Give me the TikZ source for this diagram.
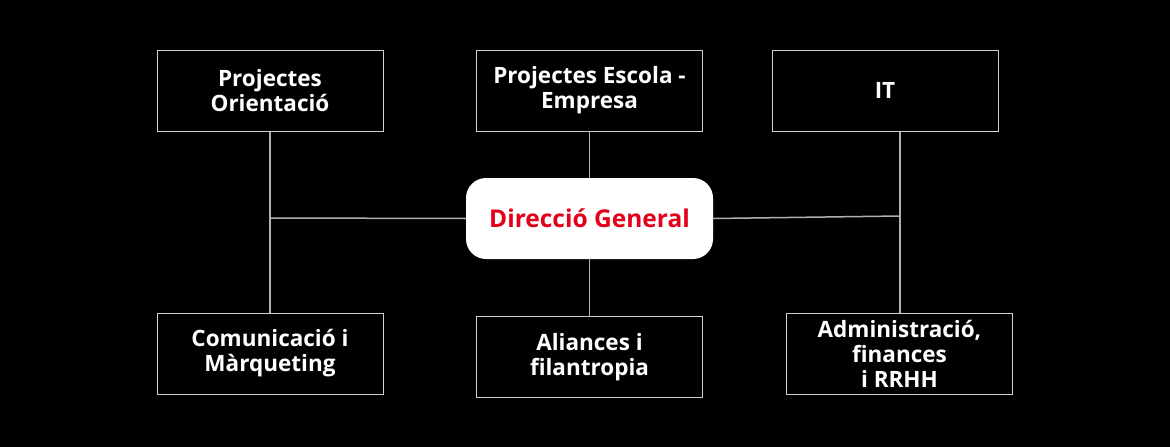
\documentclass[tikz,border=0pt]{standalone}
\usepackage{fontspec}
\setmainfont{Open Sans}
\usetikzlibrary{positioning}

\definecolor{dgred}{HTML}{E2001A}
\definecolor{boxline}{HTML}{CFCFCF}
\definecolor{linkline}{HTML}{B0B0B0}

\tikzset{
  area/.style={draw=boxline, line width=1pt, fill=black, text=white,
    minimum width=226pt, minimum height=81pt, align=center,
    font=\fontsize{22.5}{25}\selectfont\bfseries, inner sep=0pt},
  head/.style={fill=white, rounded corners=20pt, text=dgred,
    minimum width=247pt, minimum height=81pt,
    font=\fontsize{24.5}{26}\selectfont\bfseries, inner sep=0pt},
  link/.style={linkline, line width=1.5pt},
}

\begin{document}
\begin{tikzpicture}[x=1pt,y=-1pt]

% background
\fill[black] (0,0) rectangle (1170,447);
\useasboundingbox (0,0) rectangle (1170,447);

% === Top row ===
\node[area] (orient) at (270,90.5) {Projectes\\Orientació};
\node[area] (escola) at (589.5,90.5) {Projectes Escola -\\Empresa};
\node[area] (it) at (885,90.5) {IT};

% === Centre ===
\node[head] (dg) at (589.5,218.5) {Direcció General};

% === Bottom row ===
\node[area] (comunic) at (270,353.5) {Comunicació i\\Màrqueting};
\node[area] (alianc) at (589.5,357) {Aliances i\\filantropia};
\node[area] (admin) at (899.5,353.5) {Administració,\\finances\\ i RRHH};

% junctions
\coordinate (jl) at (270,218);
\coordinate (jr) at (900,216);

% === Links ===
\draw[link] (orient.south) -- (comunic.north);
\draw[link] (jl) -- (dg.west);
\draw[link] (escola.south) -- (dg.north);
\draw[link] (dg.south) -- (alianc.north);
\draw[link] (dg.east) -- (jr);
\draw[link] (it.south -| jr) -- (admin.north -| jr);

\end{tikzpicture}
\end{document}
